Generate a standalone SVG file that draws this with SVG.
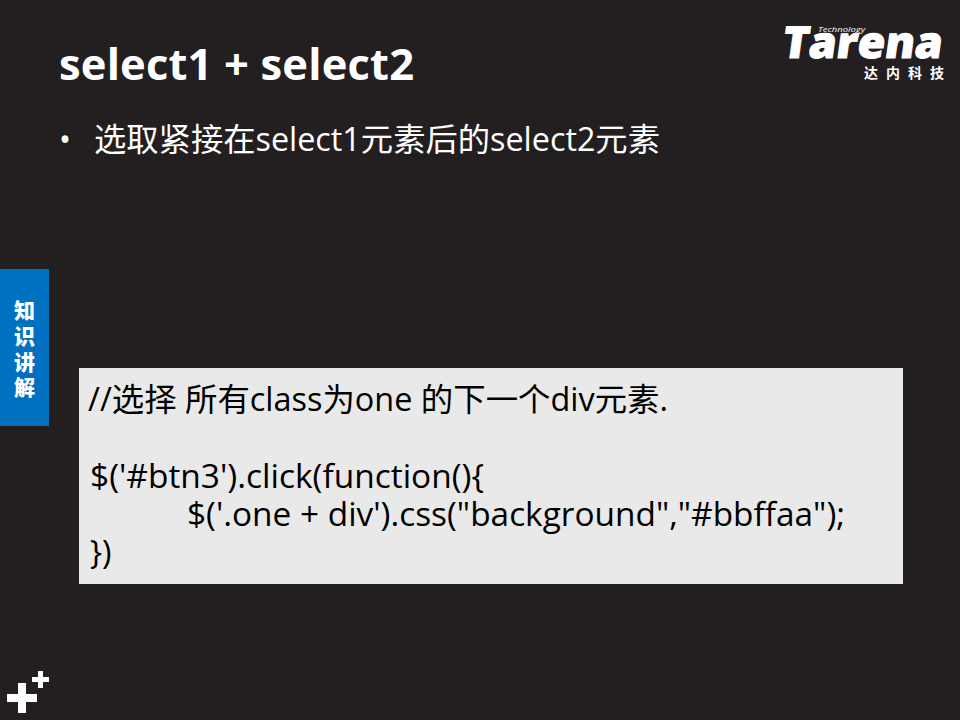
<svg xmlns="http://www.w3.org/2000/svg" width="960" height="720" viewBox="0 0 960 720">
<style>
text{font-family:"Open Sans","Noto Sans CJK SC",sans-serif}
.code{font-size:32px;fill:#000}
.side{font-size:21px;font-weight:900;fill:#fff;text-anchor:middle;font-family:"Noto Sans CJK SC",sans-serif}
</style>
<rect width="960" height="720" fill="#231f20"/>
<g id="title"><text x="59" y="80" font-size="43.5" font-weight="700" fill="#fff" textLength="355" lengthAdjust="spacing">select1 + select2</text></g>
<g id="bullet">
<text x="59" y="151" font-size="32" fill="#fff">•</text>
<text x="94" y="151" font-size="32" fill="#fff" textLength="566" lengthAdjust="spacingAndGlyphs">选取紧接在select1元素后的select2元素</text>
</g>
<g id="logo">
<text transform="translate(781 58) skewX(-8)" font-size="44" font-weight="800" fill="#fff" textLength="160" lengthAdjust="spacingAndGlyphs" stroke="#fff" stroke-width="1">Tarena</text>
<text x="818" y="32" font-size="8" font-style="italic" fill="#fff" textLength="47" lengthAdjust="spacingAndGlyphs" font-family="Liberation Sans">Technology</text>
<text x="864" y="78" font-size="14" font-weight="700" fill="#fff" textLength="80" font-family="Noto Sans CJK SC">达内科技</text>
</g>
<g id="side-tab">
<rect x="0" y="269" width="49" height="157" fill="#0070c0"/>
<text class="side"><tspan x="24.5" y="318">知</tspan><tspan x="24.5" y="344">识</tspan><tspan x="24.5" y="370">讲</tspan><tspan x="24.5" y="395">解</tspan></text>
</g>
<g id="code-box">
<rect x="79" y="368" width="824" height="216" fill="#e9e9e9"/>
<text class="code" x="88" y="411" textLength="580" lengthAdjust="spacingAndGlyphs">//选择 所有class为one 的下一个div元素.</text>
<text class="code" x="90" y="488" textLength="394" lengthAdjust="spacingAndGlyphs">$('#btn3').click(function(){</text>
<text class="code" x="187" y="526" textLength="658" lengthAdjust="spacingAndGlyphs">$('.one + div').css("background","#bbffaa");</text>
<text class="code" x="90" y="564">})</text>
</g>
<g id="plus" fill="#fff">
<rect x="7" y="694" width="30" height="8"/>
<rect x="18" y="683" width="8" height="30"/>
<rect x="32" y="677" width="17" height="5"/>
<rect x="38" y="671" width="5" height="17"/>
</g>
</svg>
